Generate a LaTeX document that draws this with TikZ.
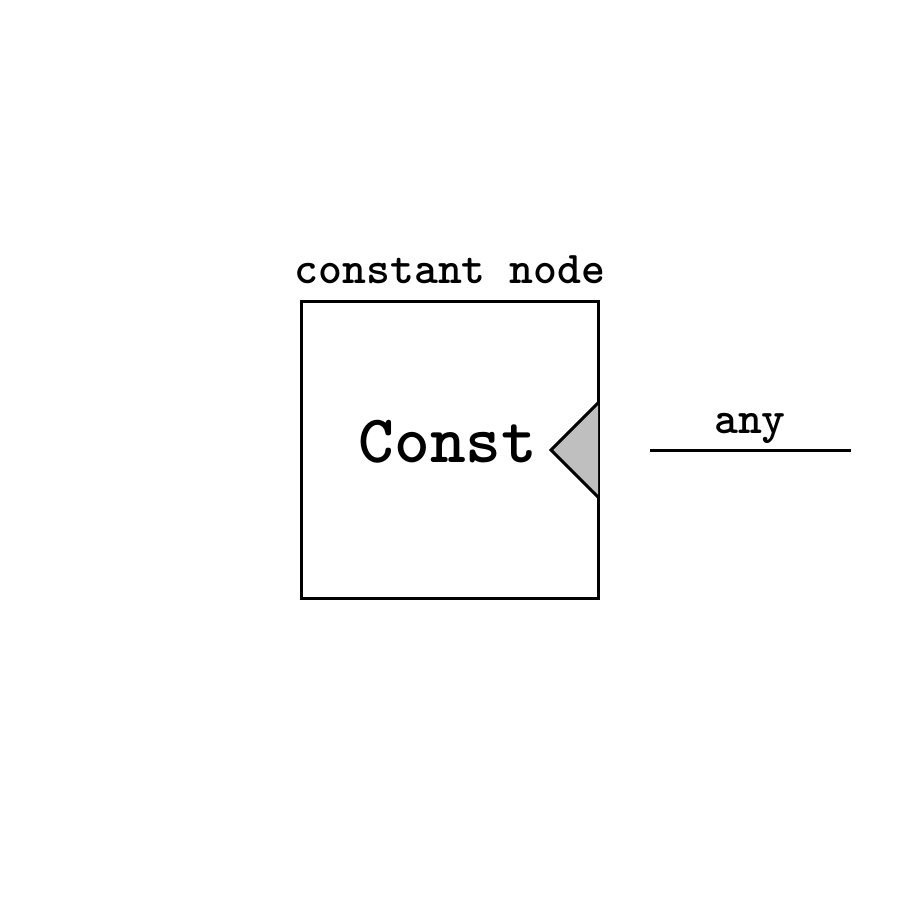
\documentclass[tikz,border=0pt]{standalone}
\usepackage{fontspec}
\newfontfamily\courfont{lmmonolt10-bold.otf}
\begin{document}
\begin{tikzpicture}[x=1pt,y=-1pt,
  lbl/.style={font=\courfont\fontsize{45.5}{54}\selectfont, inner sep=0pt, anchor=base},
  big/.style={font=\courfont\fontsize{68}{80}\selectfont, inner sep=0pt, anchor=base},
  blockbox/.style={draw, line width=3pt, minimum size=297pt, inner sep=0pt},
  port/.style={draw, line width=3pt, line join=miter}]
\useasboundingbox (0,0) rectangle (900,900);
\node[blockbox] (box) at (449.5,449.5) {};
\node[lbl] (title) at (450,283) {constant node};
\node[big] (const) at (448,462) {Const};
\coordinate (p1) at (598,403);
\coordinate (p2) at (551,450);
\coordinate (p3) at (598,497);
\fill[black!25] (p1) -- (p2) -- (p3) -- cycle;
\draw[port] (p1) -- (p2) -- (p3);
\coordinate (l1) at (650,450);
\coordinate (l2) at (851,450);
\draw[line width=3pt] (l1) -- (l2);
\node[lbl] (any) at (750,433) {any};
\end{tikzpicture}
\end{document}
